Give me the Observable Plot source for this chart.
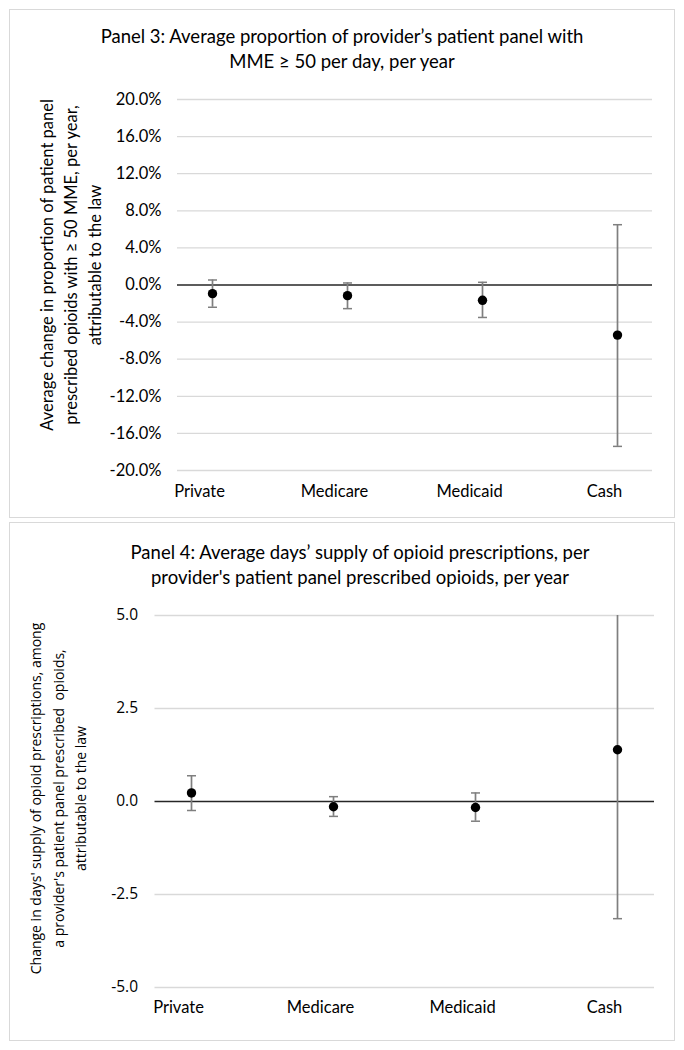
<!DOCTYPE html>
<html><head><meta charset="utf-8">
<script src="https://cdn.jsdelivr.net/npm/d3@7"></script>
<script src="https://cdn.jsdelivr.net/npm/@observablehq/plot@0.6"></script>
<style>
body{margin:0;background:#fff;width:684px;height:1050px;position:relative;overflow:hidden;font-family:Lato,sans-serif;color:#000;}
.panel{position:absolute;left:9px;width:666px;border:1px solid #d9d9d9;box-sizing:border-box;}
.title{position:absolute;left:0;width:684px;text-align:center;font-size:18.5px;line-height:25px;white-space:nowrap;}
.chart{position:absolute;left:0;}
</style></head><body>
<div class="panel" style="top:9px;height:509px"></div>
<div class="panel" style="top:522px;height:519px"></div>
<div class="title" id="t3" style="top:24px"></div>
<div class="title" id="t4" style="top:540px;left:18px"></div>
<div class="chart" id="c3" style="top:85px"></div>
<div class="chart" id="c4" style="top:595px"></div>
<script>
const categories = ["Private", "Medicare", "Medicaid", "Cash"];

// Panel 3: % change (percentage points)
const p3Est = [-0.93, -1.15, -1.65, -5.4];
const p3Lo = [-2.4, -2.55, -3.5, -17.4];
const p3Hi = [0.54, 0.22, 0.29, 6.5];
const p3Ticks = [-20, -16, -12, -8, -4, 0, 4, 8, 12, 16, 20];

// Panel 4: days' supply change
const p4Est = [0.23, -0.14, -0.16, 1.39];
const p4Lo = [-0.24, -0.40, -0.53, -3.15];
const p4Hi = [0.69, 0.13, 0.23, 5.3];
const p4Ticks = [-5, -2.5, 0, 2.5, 5];

const p3Title = "Panel 3: Average proportion of provider\u2019s patient panel with<br>MME \u2265 50 per day, per year";
const p4Title = "Panel 4: Average days\u2019 supply of opioid prescriptions, per<br>provider's patient panel prescribed opioids, per year";
const p3YTitle = "Average change in proportion of patient panel\nprescribed opioids with \u2265 50 MME, per year,\nattributable to the law";
const p4YTitle = "Change in days' supply of opioid prescriptions, among\na provider's patient panel prescribed  opioids,\nattributable to the law";

document.getElementById("t3").innerHTML = p3Title;
document.getElementById("t4").innerHTML = p4Title;

const cap = {draw(ctx, size) { const w = Math.sqrt(size / Math.PI); ctx.moveTo(-w, 0); ctx.lineTo(w, 0); }};

function panel(o) {
  const data = categories.map((c, i) => ({cat: c, est: o.est[i], lo: o.lo[i], hi: o.hi[i]}));
  return Plot.plot({
    width: 684, height: o.height,
    marginTop: o.marginTop, marginBottom: o.marginBottom,
    marginLeft: o.marginLeft, marginRight: o.marginRight,
    style: {background: "none", fontFamily: "Lato, sans-serif", fontSize: "16px", color: "#000"},
    x: {type: "point", domain: categories, padding: 0.25, axis: null},
    y: {domain: o.domain, axis: null},
    marks: [
      Plot.ruleY(o.ticks.filter(t => t !== 0), {stroke: "#d9d9d9", strokeWidth: 1.3}),
      Plot.ruleY([0], {stroke: "#262626", strokeWidth: 1.3}),
      Plot.axisY({ticks: o.ticks, tickSize: 0, tickPadding: o.yPad, tickFormat: o.fmt, label: null,
        fontSize: o.yFont, fontFamily: o.yFamily, fill: "#000"}),
      Plot.axisX({tickSize: 0, tickPadding: o.xPad, label: null, fontSize: 16.5, dx: -13, fill: "#000"}),
      Plot.ruleX(data, {x: "cat", y1: "lo", y2: "hi", stroke: "#7f7f7f", strokeWidth: 1.7, clip: true}),
      Plot.dot(data, {x: "cat", y: "lo", symbol: cap, r: 4.5, stroke: "#7f7f7f", strokeWidth: 1.5, clip: true}),
      Plot.dot(data, {x: "cat", y: "hi", symbol: cap, r: 4.5, stroke: "#7f7f7f", strokeWidth: 1.5, clip: true}),
      Plot.dot(data, {x: "cat", y: "est", r: 4.7, fill: "#000", stroke: "none"}),
      Plot.text([o.ytitle], {frameAnchor: "left", rotate: -90, dx: o.tdx, dy: o.tdy, lineAnchor: "middle",
        textAnchor: "middle", lineHeight: o.lh, fontSize: o.tFont, fontFamily: o.yFamily, fill: "#000"})
    ]
  });
}

document.getElementById("c3").appendChild(panel({
  est: p3Est, lo: p3Lo, hi: p3Hi, ticks: p3Ticks, domain: [-20, 20],
  fmt: d => d.toFixed(1) + "%",
  height: 430, marginTop: 14, marginBottom: 45, marginLeft: 177, marginRight: 32,
  yPad: 16, xPad: 15, yFont: 16.5, tFont: 16.5, yFamily: "Lato, sans-serif",
  ytitle: p3YTitle, tdx: -108, tdy: -20, lh: 1.45
}));

document.getElementById("c4").appendChild(panel({
  est: p4Est, lo: p4Lo, hi: p4Hi, ticks: p4Ticks, domain: [-5, 5],
  fmt: d => d.toFixed(1),
  height: 440, marginTop: 20, marginBottom: 48, marginLeft: 154.5, marginRight: 30,
  yPad: 17, xPad: 14, yFont: 15.5, tFont: 14, yFamily: "'Open Sans', sans-serif",
  ytitle: p4YTitle, tdx: -98.5, tdy: -3, lh: 1.6
}));
</script>
</body></html>
